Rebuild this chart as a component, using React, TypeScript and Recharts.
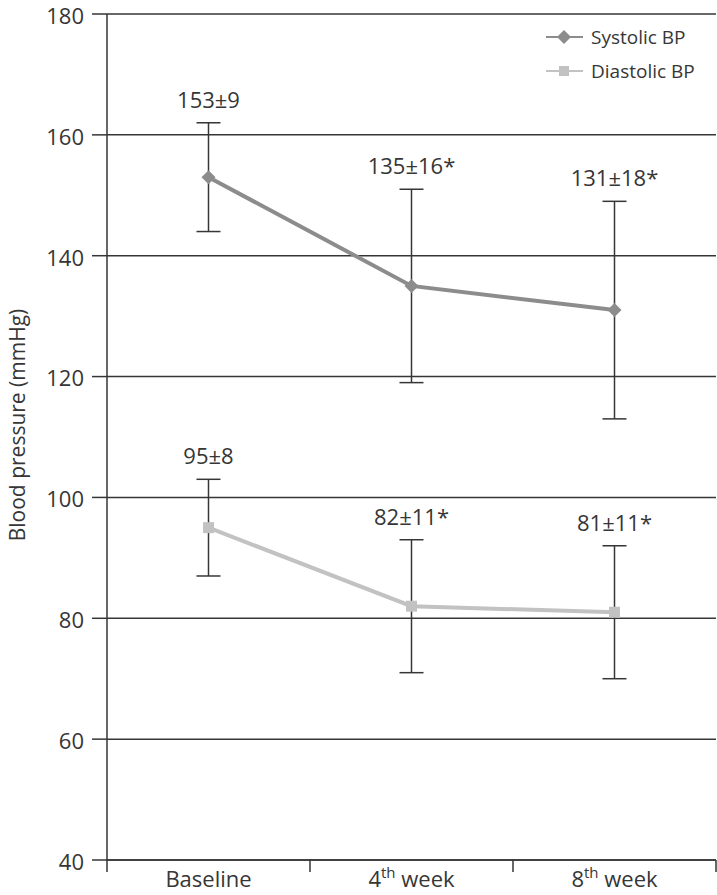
import React from "react";
import { CartesianGrid, ErrorBar, LabelList, Legend, Line, LineChart, XAxis, YAxis } from "recharts";

const categories = ["Baseline", "4th week", "8th week"];
const systolicMean = [153, 135, 131];
const systolicSd = [9, 16, 18];
const diastolicMean = [95, 82, 81];
const diastolicSd = [8, 11, 11];
const significant = [false, true, true];
const yTicks = [40, 60, 80, 100, 120, 140, 160, 180];

const ink = "#363636";
const sysColor = "#8c8c8c";
const diaColor = "#c2c2c2";
const font = "'Open Sans', sans-serif";

const data = categories.map((name, i) => ({
  name,
  x: i + 0.5,
  sys: systolicMean[i],
  sysErr: systolicSd[i],
  sysTop: systolicMean[i] + systolicSd[i],
  sysLabel: `${systolicMean[i]}±${systolicSd[i]}${significant[i] ? "*" : ""}`,
  dia: diastolicMean[i],
  diaErr: diastolicSd[i],
  diaTop: diastolicMean[i] + diastolicSd[i],
  diaLabel: `${diastolicMean[i]}±${diastolicSd[i]}${significant[i] ? "*" : ""}`
}));

function Diamond({ cx, cy, fill }: any) {
  if (cx == null || cy == null) return null;
  const r = 7;
  return <path d={`M${cx},${cy - r}L${cx + r},${cy}L${cx},${cy + r}L${cx - r},${cy}Z`} fill={fill} />;
}

function Square({ cx, cy, fill }: any) {
  if (cx == null || cy == null) return null;
  const s = 11;
  return <rect x={cx - s / 2} y={cy - s / 2} width={s} height={s} fill={fill} />;
}

function XTick({ x, y, payload }: any) {
  const v = payload.value;
  if (Number.isInteger(v)) {
    return <line x1={x} x2={x} y1={y} y2={y + 12} stroke={ink} strokeWidth={1.5} />;
  }
  const label = categories[Math.floor(v)];
  const m = label.match(/^(\d+)(th)(.*)$/);
  return (
    <text x={x} y={y + 27} textAnchor="middle" fill={ink} fontSize={22} fontFamily={font}>
      {m ? (
        <>
          {m[1]}
          <tspan dy={-9} fontSize={15}>{m[2]}</tspan>
          <tspan dy={9}>{m[3]}</tspan>
        </>
      ) : (
        label
      )}
    </text>
  );
}

function LegendBox() {
  const rows = [
    { name: "Systolic BP", color: sysColor, shape: "diamond" },
    { name: "Diastolic BP", color: diaColor, shape: "square" }
  ];
  return (
    <div>
      {rows.map((r) => (
        <div key={r.name} style={{ display: "flex", alignItems: "center", height: 34 }}>
          <svg width={40} height={20}>
            <line x1={2} x2={39} y1={10} y2={10} stroke={r.color} strokeWidth={2} />
            {r.shape === "diamond" ? (
              <path d="M20,3L27,10L20,17L13,10Z" fill={r.color} />
            ) : (
              <rect x={15} y={5} width={10} height={10} fill={r.color} />
            )}
          </svg>
          <span style={{ marginLeft: 7, fontSize: 19, fontFamily: font, color: ink }}>{r.name}</span>
        </div>
      ))}
    </div>
  );
}

export default function App() {
  return (
    <div style={{ position: "absolute", left: 0, top: 0, background: "#fff" }}>
      <LineChart width={717} height={895} data={data} margin={{ top: 14, right: 1, bottom: 0, left: 0 }}>
        <CartesianGrid vertical={false} stroke={ink} strokeWidth={1.5} />
        <XAxis
          dataKey="x"
          type="number"
          domain={[0, 3]}
          ticks={[0, 0.5, 1, 1.5, 2, 2.5, 3]}
          interval={0}
          height={35}
          tickSize={0}
          tickMargin={0}
          tickLine={false}
          axisLine={{ stroke: ink, strokeWidth: 1.5 }}
          tick={<XTick />}
        />
        <YAxis
          type="number"
          domain={[40, 180]}
          ticks={yTicks}
          interval={0}
          width={107}
          tickSize={15}
          tickMargin={8}
          axisLine={{ stroke: ink, strokeWidth: 1.5 }}
          tickLine={{ stroke: ink, strokeWidth: 1.5 }}
          tick={{ fill: ink, fontSize: 22, fontFamily: font, dy: 2 }}
          label={{
            value: "Blood pressure (mmHg)",
            angle: -90,
            position: "center",
            dx: -36,
            dy: -12,
            fill: ink,
            fontSize: 21,
            fontFamily: font
          }}
        />
        <Legend
          layout="vertical"
          align="center"
          verticalAlign="middle"
          wrapperStyle={{ position: "absolute", left: 544, top: 20, width: 170 }}
          content={() => <LegendBox />}
        />
        <Line
          dataKey="sys"
          stroke={sysColor}
          strokeWidth={4}
          dot={<Diamond fill={sysColor} />}
          activeDot={false}
          isAnimationActive={false}
        >
          <ErrorBar dataKey="sysErr" direction="y" width={12} stroke={ink} strokeWidth={1.5} />
        </Line>
        <Line
          dataKey="dia"
          stroke={diaColor}
          strokeWidth={4}
          dot={<Square fill={diaColor} />}
          activeDot={false}
          isAnimationActive={false}
        >
          <ErrorBar dataKey="diaErr" direction="y" width={12} stroke={ink} strokeWidth={1.5} />
        </Line>
        <Line dataKey="sysTop" stroke="none" dot={false} activeDot={false} legendType="none" isAnimationActive={false}>
          <LabelList dataKey="sysLabel" position="top" offset={15} fill={ink} fontSize={22} fontFamily={font} />
        </Line>
        <Line dataKey="diaTop" stroke="none" dot={false} activeDot={false} legendType="none" isAnimationActive={false}>
          <LabelList dataKey="diaLabel" position="top" offset={15} fill={ink} fontSize={22} fontFamily={font} />
        </Line>
      </LineChart>
    </div>
  );
}
